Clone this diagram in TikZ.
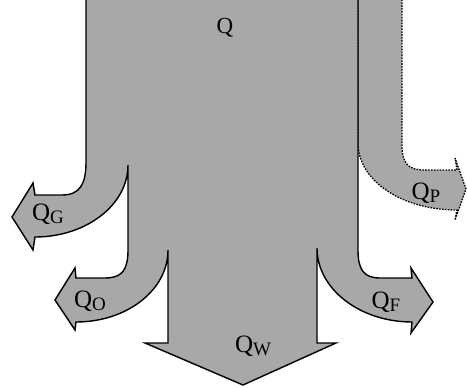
\documentclass[tikz,border=0pt]{standalone}
\usepackage{fontspec}
\setmainfont{Liberation Serif}
\usepackage{xcolor}
\usepackage{tikz}
\definecolor{flowgray}{RGB}{168,168,168}
\newcommand\flowsub[1]{\raisebox{-0.3ex}{\fontsize{19}{19}\selectfont #1}}

\begin{document}
\begin{tikzpicture}[x=1pt,y=-1pt,line join=miter,
  flow/.style={fill=flowgray,draw=black,line width=1.4pt},
  lbl/.style={font=\fontsize{25}{27}\selectfont,inner sep=0pt}]
\useasboundingbox (0,0) rectangle (467,388);

% dotted branch Q_P (drawn first, main line goes over it)
\path[flow,line width=1.3pt,dash pattern=on 1.6pt off 1.3pt]
(358,-3)--(402,-3)--(402,145)
.. controls (402,163) and (408,170) .. (424,170)
--(457,170)--(455,158)--(466,189)--(455,220)--(457,210)
.. controls (401,210) and (358,180) .. (358,143)
--cycle;

% main flow with the branches Q_G, Q_O, Q_W, Q_F
\path[flow]
(86,-3)--(86,162)
.. controls (86,184) and (80,195) .. (62,195)
--(35,195)--(33,183)--(12,217)--(33,250)--(35,237)
.. controls (86,237) and (128,205) .. (128,165)
--(128,250)
.. controls (128,270) and (122,278) .. (105,278)
--(76,278)--(75,268)--(55,300)--(75,330)--(76,322)
.. controls (127,322) and (168,290) .. (168,250)
--(168,343)--(145,343)--(243,385)--(336,343)--(317,343)--(317,248)
.. controls (317,289) and (360,322) .. (412,322)
--(411,333)--(433,302)--(411,268)--(412,278)--(380,278)
.. controls (364,278) and (358,270) .. (358,250)
--(358,-3)--cycle;

\node[lbl,font=\fontsize{23}{25}\selectfont] (q) at (225,28) {Q};
\node[lbl] (qg) at (48,214) {Q\flowsub{G}};
\node[lbl] (qo) at (90,301) {Q\flowsub{O}};
\node[lbl] (qw) at (253,346) {Q\flowsub{W}};
\node[lbl] (qp) at (426,193) {Q\flowsub{P}};
\node[lbl] (qf) at (386,302) {Q\flowsub{F}};
\end{tikzpicture}
\end{document}
